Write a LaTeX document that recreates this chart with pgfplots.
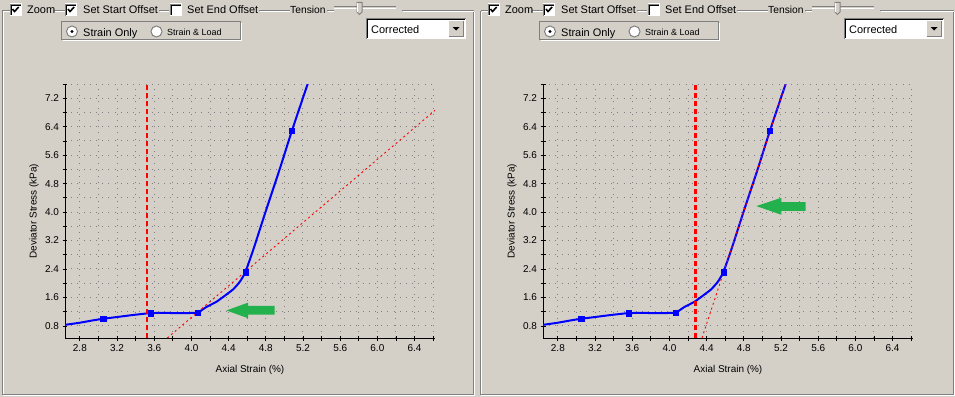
\documentclass[border=0pt]{standalone}
\usepackage{fontspec}
\setmainfont{Liberation Sans}
\usepackage{pgfplots}
\usepackage{pgfplotstable}
\pgfplotsset{compat=1.18}
\definecolor{bg}{RGB}{212,208,200}
\definecolor{dkgray}{RGB}{128,128,128}
\definecolor{grn}{RGB}{34,177,76}
\definecolor{bblue}{RGB}{0,0,255}
\definecolor{rred}{RGB}{255,0,0}

\pgfplotstableread{
x y
2.64 0.83
2.80 0.89
2.95 0.96
3.05 1.00
3.20 1.05
3.35 1.10
3.45 1.13
3.56 1.16
3.70 1.165
3.85 1.16
3.95 1.16
4.07 1.18
4.16 1.33
4.27 1.48
4.37 1.67
4.45 1.83
4.52 2.04
4.58 2.31
4.67 2.98
4.80 4.03
4.95 5.21
5.08 6.28
5.25 7.60
5.30 8.00
}\curvedata

\pgfplotstableread{
x y
3.05 1.00
3.56 1.16
4.07 1.18
4.58 2.31
5.08 6.28
}\markdata

\pgfplotsset{
 panel/.style={
  scale only axis, width=370bp, height=254bp,
  xmin=2.64, xmax=6.62, ymin=0.46, ymax=7.6,
  axis lines=left,
  axis line style={-, black, line width=0.8bp},
  xtick={2.8,3.2,3.6,4.0,4.4,4.8,5.2,5.6,6.0,6.4},
  minor xtick={3.0,3.4,3.8,4.2,4.6,5.0,5.4,5.8,6.2,6.6},
  ytick={0.8,1.6,2.4,3.2,4.0,4.8,5.6,6.4,7.2},
  minor ytick={1.2,2.0,2.8,3.6,4.4,5.2,6.0,6.8,7.6},
  grid=both,
  major grid style={dkgray, line width=1bp, dash pattern=on 1bp off 5.2bp},
  minor grid style={dkgray, line width=1bp, dash pattern=on 1bp off 5.2bp},
  tick align=center, major tick length=5bp, minor tick length=5bp,
  every tick/.style={black, line width=0.8bp},
  tick label style={font=\fontsize{10}{12}\selectfont},
  xticklabel style={anchor=center, yshift=-8bp},
  yticklabel style={anchor=east},
  /pgf/number format/.cd, fixed, fixed zerofill, precision=1, assume math mode=true,
  /pgfplots/.cd,
  xlabel={Axial Strain (\%)}, ylabel={Deviator Stress (kPa)},
  label style={font=\fontsize{11}{13}\selectfont},
  every axis x label/.style={at={(axis description cs:0.5,0)}, anchor=center, yshift=-32bp},
  every axis y label/.style={at={(axis description cs:0,0.5)}, xshift=-31bp, rotate=90, anchor=center},
 }
}

\newcommand\chk[2]{%
  \fill[white] (#1,#2) rectangle ++(12,12);
  \draw[dkgray, line width=1bp] (#1+0.5,#2+12) -- (#1+0.5,#2+0.5) -- (#1+12,#2+0.5);
  \draw[black, line width=1bp] (#1+1.5,#2+11) -- (#1+1.5,#2+1.5) -- (#1+11,#2+1.5);
  \draw[white, line width=1bp] (#1+0.5,#2+11.5) -- (#1+11.5,#2+11.5) -- (#1+11.5,#2+0.5);
}
\newcommand\tick[2]{%
  \draw[black, line width=1.6bp] (#1+3,#2+5.5) -- (#1+5,#2+8) -- (#1+9.2,#2+3.5);
}
\newcommand\guipanel[2]{%
\begin{scope}[shift={(#1bp,0bp)}, x=1bp, y=-1bp]
  % etched frame
  \draw[white, line width=1bp] (3.5,395.5) -- (3.5,11.5);
  \draw[white, line width=1bp] (3.5,395.5) -- (#2+1,395.5) -- (#2+1,11.5);
  \draw[dkgray, line width=1bp] (2.5,394.5) -- (2.5,10.5);
  \draw[dkgray, line width=1bp] (2.5,394.5) -- (#2,394.5) -- (#2,10.5);
  \foreach \a/\b in {2.5/9.5, 54/65, 159/169, 259/290, 327/334, 402/#2}{
    \draw[dkgray, line width=1bp] (\a,10.5) -- (\b,10.5);
    \draw[white, line width=1bp] (\a+1,11.5) -- (\b,11.5);
  }
  % checkboxes
  \chk{9.5}{3.5}\tick{9.5}{3.5}
  \chk{65}{3.5}\tick{65}{3.5}
  \chk{169.5}{3.5}
  \node[anchor=base west, inner sep=0, font=\fontsize{11}{13}\selectfont] at (27,13.5) {Zoom};
  \node[anchor=base west, inner sep=0, font=\fontsize{11}{13}\selectfont] at (83,13.5) {Set Start Offset};
  \node[anchor=base west, inner sep=0, font=\fontsize{11}{13}\selectfont] at (187,13.5) {Set End Offset};
  \node[anchor=base west, inner sep=0, font=\fontsize{10.3}{13}\selectfont] at (290,13.5) {Tension};
  % slider
  \draw[dkgray, line width=1bp] (334,6.5) -- (396,6.5);
  \draw[white, line width=1bp] (334,8.5) -- (396,8.5);
  \draw[line width=1bp, fill=bg, draw=dkgray] (357,2.5) -- (362,2.5) -- (362,12) -- (359.5,14.5) -- (357,12) -- cycle;
  \draw[white, line width=0.8bp] (357.5,12) -- (357.5,3);
  % radio group
  \draw[dkgray, line width=1bp] (61.5,21.5) rectangle (240.5,39.5);
  \draw[white, line width=1bp] (62.5,39.5+1) -- (241.5,40.5) -- (241.5,22.5);
  \draw[fill=white, draw=dkgray, line width=1bp] (72,31.5) circle (5.5bp);
  \fill[black] (72,31.5) circle (1.7bp);
  \draw[fill=white, draw=dkgray, line width=1bp] (156.5,31.5) circle (5.5bp);
  \node[anchor=base west, inner sep=0, font=\fontsize{11}{13}\selectfont] at (83,36) {Strain Only};
  \node[anchor=base west, inner sep=0, font=\fontsize{9}{11}\selectfont] at (167,35.5) {Strain \& Load};
  % combo box
  \fill[white] (366,18) rectangle (466,39);
  \draw[dkgray, line width=1bp] (366.5,38.5) -- (366.5,18.5) -- (465.5,18.5);
  \draw[black, line width=1bp] (367.5,37.5) -- (367.5,19.5) -- (464.5,19.5);
  \draw[white, line width=1bp] (366.5,38.5) -- (465.5,38.5) -- (465.5,18.5);
  \fill[bg] (448,20) rectangle (464,37);
  \draw[white, line width=1bp] (448.5,36.5) -- (448.5,20.5) -- (463.5,20.5);
  \draw[dkgray, line width=1bp] (448.5,36.5) -- (463.5,36.5) -- (463.5,20.5);
  \fill[black] (452.5,27) -- (459.5,27) -- (456,30.5) -- cycle;
  \node[anchor=base west, inner sep=0, font=\fontsize{11}{13}\selectfont] at (371,33.5) {Corrected};
\end{scope}}

\begin{document}
\begin{tikzpicture}
\path[use as bounding box, fill=bg] (0bp,0bp) rectangle (955bp,-397bp);
\guipanel{0}{473.5}
\guipanel{478}{475.5}

% ---- left panel ----
\begin{axis}[panel, at={(65bp,-338bp)}, anchor=south west]
\addplot[bblue, line width=2bp, smooth, tension=0.3, mark=none] table {\curvedata};
\addplot[bblue, only marks, mark=square*, mark size=2.6bp] table {\markdata};
\addplot[rred, line width=0.9bp, dash pattern=on 2bp off 3bp] coordinates {(3.74,0.46) (6.62,6.86)};
\addplot[rred, line width=2.2bp, dash pattern=on 5bp off 3bp] coordinates {(3.52,0.46) (3.52,7.57)};
\fill[grn] (axis cs:4.376,1.235) -- (axis cs:4.609,1.454) -- (axis cs:4.609,1.361)
  -- (axis cs:4.895,1.361) -- (axis cs:4.895,1.117) -- (axis cs:4.609,1.117)
  -- (axis cs:4.609,1.016) -- cycle;
\end{axis}

% ---- right panel ----
\begin{axis}[panel, at={(543bp,-338bp)}, anchor=south west]
\addplot[bblue, line width=2bp, smooth, tension=0.3, mark=none] table {\curvedata};
\addplot[bblue, only marks, mark=square*, mark size=2.6bp] table {\markdata};
\addplot[rred, line width=0.9bp, dash pattern=on 2bp off 3bp] coordinates {(4.35,0.46) (5.30,8.0)};
\addplot[rred, line width=2.2bp, dash pattern=on 5bp off 3bp] coordinates {(4.28,0.46) (4.28,7.57)};
\fill[grn] (axis cs:4.935,4.168) -- (axis cs:5.204,4.402) -- (axis cs:5.204,4.281)
  -- (axis cs:5.465,4.281) -- (axis cs:5.465,4.037) -- (axis cs:5.204,4.037)
  -- (axis cs:5.204,3.924) -- cycle;
\end{axis}
\end{tikzpicture}
\end{document}
